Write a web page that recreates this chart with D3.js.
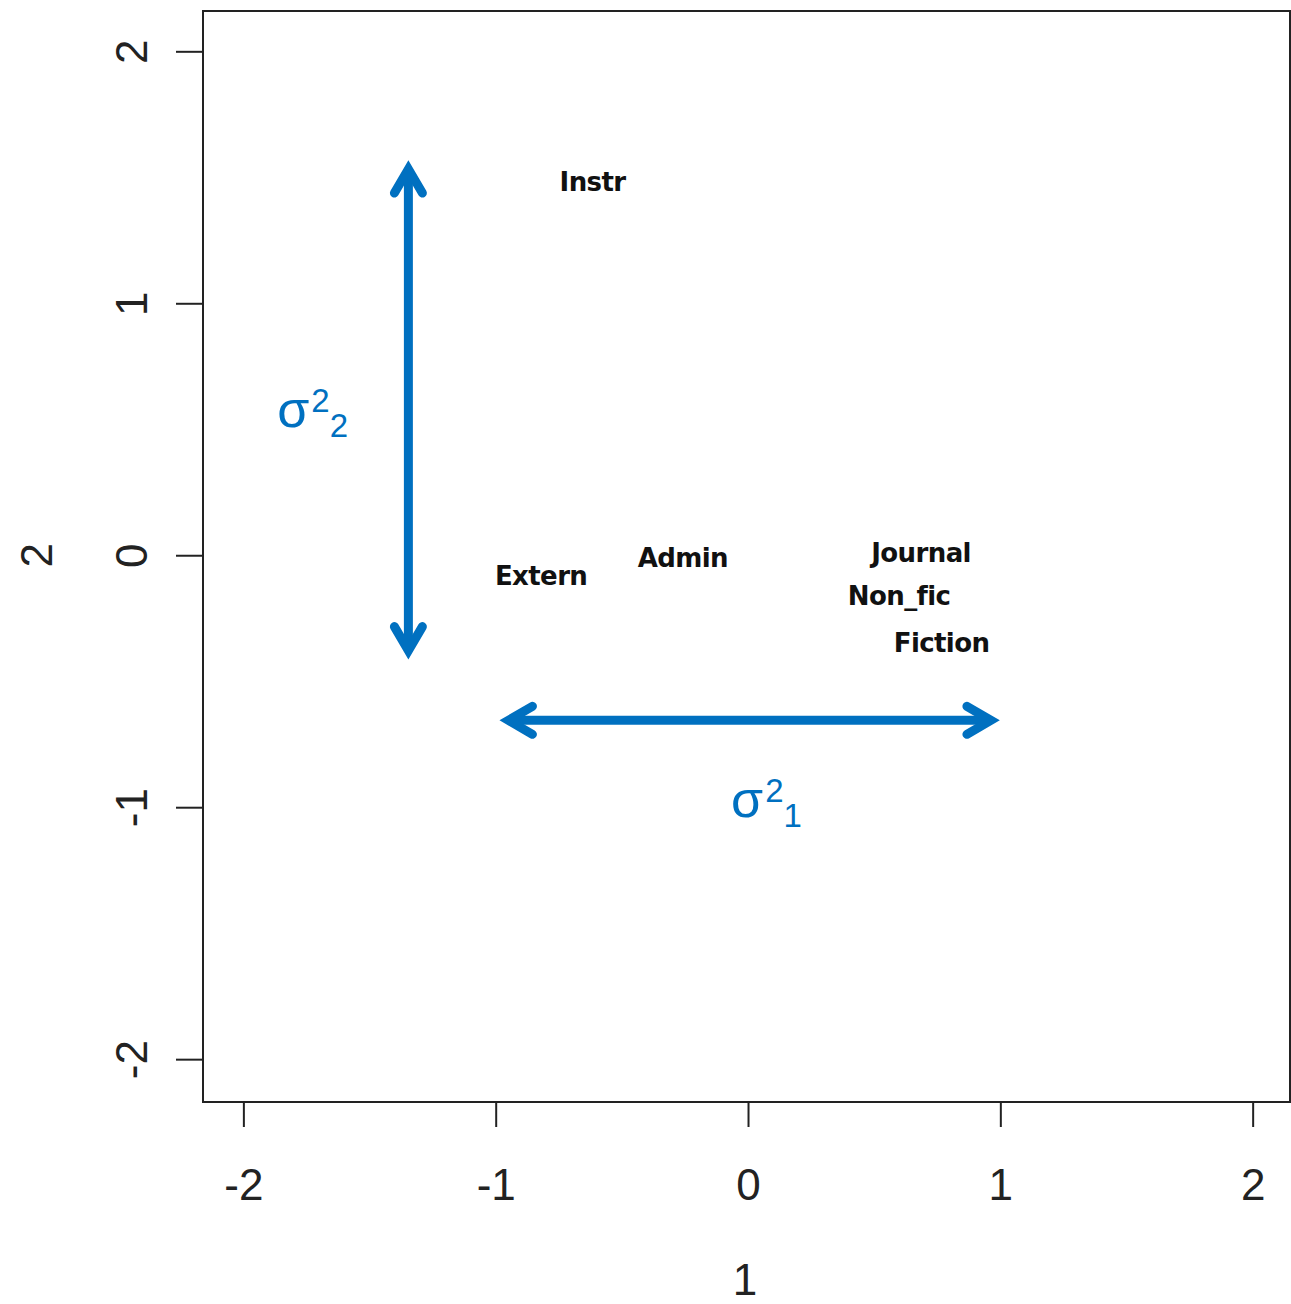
<!DOCTYPE html>
<html>
<head>
<meta charset="utf-8">
<script src="https://cdn.jsdelivr.net/npm/d3@7"></script>
<style>
  html, body { margin: 0; padding: 0; background: #fff; }
  svg { display: block; }
</style>
</head>
<body>
<svg id="chart" width="1291" height="1304"></svg>
<script>
// Category labels and their positions on the two dimensions
const categories = ["Instr", "Extern", "Admin", "Journal", "Non_fic", "Fiction"];
const dim1 = [-0.616, -0.820, -0.258, 0.686, 0.599, 0.767];
const dim2 = [1.484, -0.079, -0.008, 0.012, -0.159, -0.345];

// Axis ticks
const xTicks = [-2, -1, 0, 1, 2];
const yTicks = [-2, -1, 0, 1, 2];
const xTitle = "1";
const yTitle = "2";

// Double-headed variance arrows: [x1, y1, x2, y2] in data units
const arrowH = [-0.985, -0.655, 0.998, -0.655];
const arrowV = [-1.346, 1.568, -1.346, -0.414];

// Variance labels: sigma squared with a subscript, anchored in data units
const sigmaLabels = [
  { sub: "1", x: -0.067, y: -1.04 },
  { sub: "2", x: -1.866, y: 0.508 }
];

const blue = "#0070C0";
const ink = "#222";

const svg = d3.select("#chart");
const box = { left: 203, top: 11, right: 1290, bottom: 1102 };

const x = d3.scaleLinear().domain([-2.16, 2.148]).range([box.left, box.right]);
const y = d3.scaleLinear().domain([-2.17, 2.16]).range([box.bottom, box.top]);

const minus = d => d < 0 ? "-" + Math.abs(d) : String(d);

// Plot frame
svg.append("rect")
  .attr("x", box.left).attr("y", box.top)
  .attr("width", box.right - box.left).attr("height", box.bottom - box.top)
  .attr("fill", "none").attr("stroke", "#222").attr("stroke-width", 2);

// X axis
const xAxis = svg.append("g").attr("transform", `translate(0,${box.bottom})`)
  .call(d3.axisBottom(x).tickValues(xTicks).tickSize(25).tickPadding(0)
    .tickFormat(minus));
xAxis.select(".domain").remove();
xAxis.selectAll(".tick line").attr("stroke", "#222").attr("stroke-width", 2);
xAxis.selectAll(".tick text")
  .attr("y", 98).attr("dy", null)
  .attr("font-family", "Liberation Sans, Arial, sans-serif")
  .attr("font-size", 44).attr("fill", ink);

// Y axis
const yAxis = svg.append("g").attr("transform", `translate(${box.left},0)`)
  .call(d3.axisLeft(y).tickValues(yTicks).tickSize(27).tickPadding(0)
    .tickFormat(minus));
yAxis.select(".domain").remove();
yAxis.selectAll(".tick line").attr("stroke", "#222").attr("stroke-width", 2);
yAxis.selectAll(".tick text")
  .attr("x", null).attr("dy", null)
  .attr("transform", "translate(-56,0) rotate(-90)")
  .attr("text-anchor", "middle")
  .attr("font-family", "Liberation Sans, Arial, sans-serif")
  .attr("font-size", 44).attr("fill", ink);

// Axis titles
svg.append("text")
  .attr("x", x(0) - 3).attr("y", 1295)
  .attr("text-anchor", "middle")
  .attr("font-family", "Liberation Sans, Arial, sans-serif")
  .attr("font-size", 44).attr("fill", ink)
  .text(xTitle);
svg.append("text")
  .attr("transform", `translate(52,${y(0)}) rotate(-90)`)
  .attr("text-anchor", "middle")
  .attr("font-family", "Liberation Sans, Arial, sans-serif")
  .attr("font-size", 44).attr("fill", ink)
  .text(yTitle);

// Category labels
svg.append("g").selectAll("text")
  .data(categories)
  .join("text")
  .attr("x", (d, i) => x(dim1[i]))
  .attr("y", (d, i) => y(dim2[i]))
  .attr("dy", "0.36em")
  .attr("text-anchor", "middle")
  .attr("font-family", "DejaVu Sans, Verdana, sans-serif")
  .attr("font-weight", "bold")
  .attr("font-size", 26)
  .attr("letter-spacing", -0.6)
  .attr("fill", "#111")
  .text(d => d);

// Double-headed arrow with open chevron heads
function drawArrow(a) {
  const p1 = [x(a[0]), y(a[1])];
  const p2 = [x(a[2]), y(a[3])];
  const dx = p2[0] - p1[0], dy = p2[1] - p1[1];
  const len = Math.hypot(dx, dy);
  const ux = dx / len, uy = dy / len;      // unit direction p1 -> p2
  const nx = -uy, ny = ux;                 // normal
  const sw = 9, back = 24, half = 14;
  const tipInset = (sw / 2) / Math.sin(Math.atan(half / back));
  const v1 = [p1[0] + ux * tipInset, p1[1] + uy * tipInset];
  const v2 = [p2[0] - ux * tipInset, p2[1] - uy * tipInset];
  const g = svg.append("g")
    .attr("fill", "none").attr("stroke", blue).attr("stroke-width", sw);
  g.append("line")
    .attr("x1", v1[0]).attr("y1", v1[1]).attr("x2", v2[0]).attr("y2", v2[1]);
  const head = (v, dir) => {
    const bx = v[0] + dir * ux * back, by = v[1] + dir * uy * back;
    return [[bx + nx * half, by + ny * half], v, [bx - nx * half, by - ny * half]];
  };
  const line = d3.line();
  [head(v1, 1), head(v2, -1)].forEach(pts => {
    g.append("path").attr("d", line(pts))
      .attr("stroke-linecap", "round").attr("stroke-linejoin", "miter")
      .attr("stroke-miterlimit", 10);
  });
}
drawArrow(arrowH);
drawArrow(arrowV);

// Sigma-squared labels
sigmaLabels.forEach(s => {
  const t = svg.append("text")
    .attr("x", x(s.x)).attr("y", y(s.y))
    .attr("font-family", "Liberation Sans, Arial, sans-serif")
    .attr("fill", blue);
  t.append("tspan").attr("font-size", 52).text("σ");
  t.append("tspan").attr("font-size", 33).attr("dx", 2).attr("dy", -15).text("2");
  t.append("tspan").attr("font-size", 33).attr("dx", 0).attr("dy", 25).text(s.sub);
});
</script>
</body>
</html>
